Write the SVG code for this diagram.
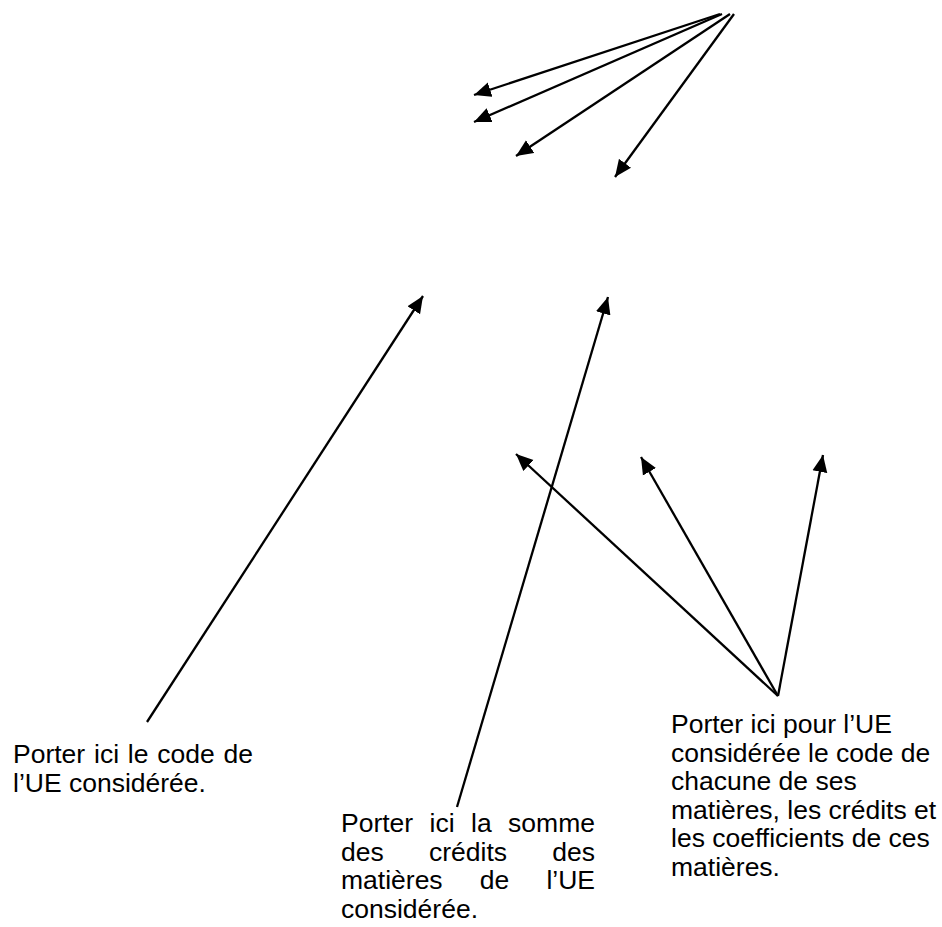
<svg xmlns="http://www.w3.org/2000/svg" width="942" height="927" viewBox="0 0 942 927">
<style>
text{font-family:"Liberation Sans",Arial,sans-serif;font-size:26.5px;fill:#000}
.c{stroke:#000;stroke-width:2.3;fill:none;marker-end:url(#ah)}
</style>
<defs>
<marker id="ah" markerUnits="userSpaceOnUse" markerWidth="18" markerHeight="16" refX="17" refY="8" orient="auto">
<path d="M0,0.5 L17,8 L0,15.5 z" fill="#000"/>
</marker>
</defs>
<rect width="942" height="927" fill="#fff"/>
<g id="connectors">
<line class="c" x1="720" y1="14" x2="474" y2="95"/>
<line class="c" x1="722" y1="14" x2="474" y2="122"/>
<line class="c" x1="730" y1="14" x2="516" y2="156"/>
<line class="c" x1="734" y1="14" x2="615" y2="177"/>
<line class="c" x1="147" y1="722" x2="423" y2="296"/>
<line class="c" x1="457" y1="807" x2="608" y2="297"/>
<line class="c" x1="778" y1="696" x2="516" y2="454"/>
<line class="c" x1="778" y1="696" x2="641" y2="457"/>
<line class="c" x1="778" y1="696" x2="823" y2="455"/>
</g>
<g id="note-code-ue">
<text x="13" y="763">Porter</text>
<text x="94" y="763">ici</text>
<text x="127.8" y="763">le</text>
<text x="157.2" y="763">code</text>
<text x="253" y="763" text-anchor="end">de</text>
<text x="13" y="792">l’UE considérée.</text>
</g>
<g id="note-somme-credits">
<text x="341" y="832">Porter</text>
<text x="429.6" y="832">ici</text>
<text x="471" y="832">la</text>
<text x="595" y="832" text-anchor="end">somme</text>
<text x="341" y="860.5">des</text>
<text x="429" y="860.5">crédits</text>
<text x="595" y="860.5" text-anchor="end">des</text>
<text x="341" y="889">matières</text>
<text x="479.8" y="889">de</text>
<text x="595" y="889" text-anchor="end">l’UE</text>
<text x="341" y="917.5">considérée.</text>
</g>
<g id="note-matieres">
<text x="671" y="733">Porter ici pour l’UE</text>
<text x="671" y="761.5">considérée le code de</text>
<text x="671" y="790">chacune de ses</text>
<text x="671" y="818.5">matières, les crédits et</text>
<text x="671" y="847">les coefficients de ces</text>
<text x="671" y="875.5">matières.</text>
</g>
</svg>
